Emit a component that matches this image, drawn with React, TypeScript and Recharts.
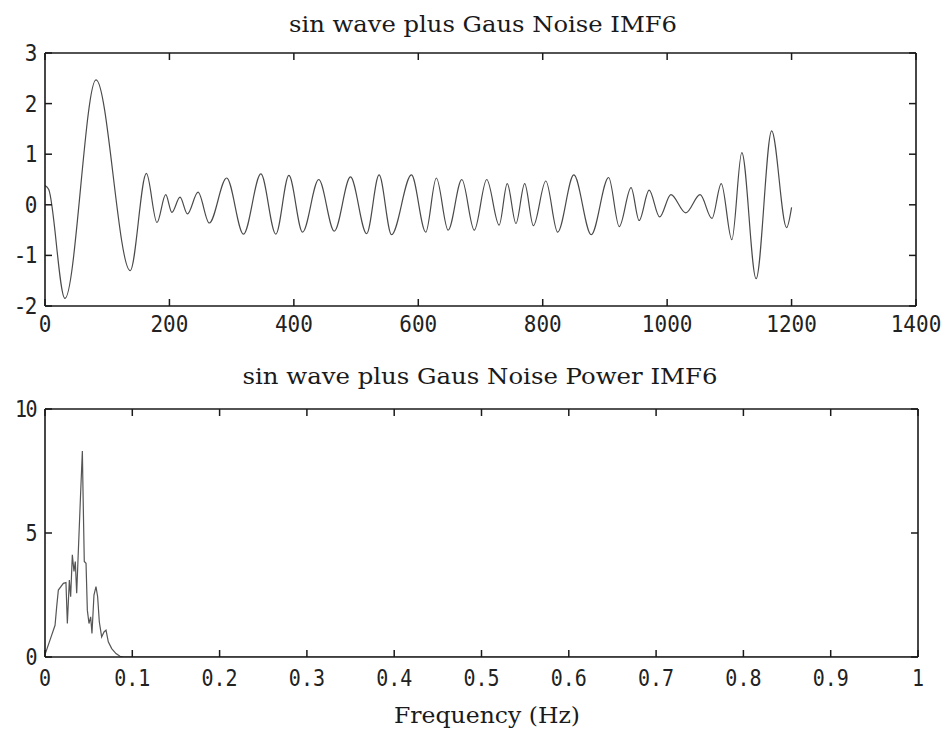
import { LineChart, Line, XAxis, YAxis } from 'recharts';

// IMF6 waveform, read at peaks / troughs
const waveX = [
  0, 6, 32, 82, 137, 163, 180, 194, 204, 217, 229, 246, 264, 292, 319, 347, 371, 392, 414,
  440, 465, 491, 517, 537, 557, 589, 612, 629, 648, 670, 690, 710, 730, 743, 757, 771, 785,
  805, 824, 850, 878, 906, 923, 942, 955, 971, 988, 1006, 1030, 1053, 1072, 1087, 1104,
  1120, 1143, 1168, 1192, 1200,
];
const waveY = [
  0.38, 0.3, -1.85, 2.47, -1.3, 0.62, -0.35, 0.2, -0.15, 0.15, -0.18, 0.25, -0.36, 0.53,
  -0.58, 0.61, -0.58, 0.58, -0.54, 0.5, -0.52, 0.55, -0.57, 0.59, -0.59, 0.59, -0.54, 0.53,
  -0.5, 0.5, -0.5, 0.5, -0.4, 0.42, -0.37, 0.42, -0.41, 0.47, -0.54, 0.59, -0.59, 0.54,
  -0.43, 0.34, -0.31, 0.29, -0.24, 0.2, -0.16, 0.2, -0.27, 0.42, -0.69, 1.03, -1.46, 1.46,
  -0.45, -0.05,
];

// power spectrum
const freqX = [
  0, 0.0057, 0.0115, 0.0134, 0.0153, 0.021, 0.024, 0.0256, 0.0279, 0.0294, 0.0313, 0.0332,
  0.0347, 0.0363, 0.0378, 0.0409, 0.0428, 0.0435, 0.045, 0.047, 0.0485, 0.0504, 0.0523,
  0.0538, 0.0561, 0.0584, 0.0603, 0.0622, 0.0649, 0.0676, 0.0699, 0.0725, 0.0764, 0.0813,
  0.0859, 0.09, 1,
];
const powerY = [
  0.1, 0.68, 1.28, 2.03, 2.7, 2.97, 3.0, 1.35, 3.1, 2.43, 4.12, 3.45, 3.85, 2.57, 3.92,
  6.69, 8.31, 6.76, 3.85, 3.78, 1.89, 1.35, 1.62, 0.95, 2.5, 2.84, 2.43, 1.42, 0.81, 1.01,
  1.08, 0.61, 0.34, 0.14, 0.03, 0, 0,
];

const waveTicksX = [0, 200, 400, 600, 800, 1000, 1200, 1400];
const waveTicksY = [-2, -1, 0, 1, 2, 3];
const freqTicks = [0, 0.1, 0.2, 0.3, 0.4, 0.5, 0.6, 0.7, 0.8, 0.9, 1];
const powerTicks = [0, 5, 10];

const waveData = waveX.map((x, i) => ({ x, y: waveY[i] }));
const powerData = freqX.map((x, i) => ({ x, y: powerY[i] }));

const AXIS = '#1a1a1a';
const TICK = 7;
const monoFont = { fontFamily: 'DejaVu Sans Mono, monospace', fill: '#222' };

const makeBottomTick = (fontSize: number, drop: number) => (props: any) => {
  const { x, y, payload } = props;
  return (
    <g>
      <line x1={x} x2={x} y1={y} y2={y - TICK} stroke={AXIS} strokeWidth={1.5} />
      <text
        transform={`translate(${x},${y + drop}) scale(1,1.12)`}
        textAnchor="middle"
        fontSize={fontSize}
        {...monoFont}
      >
        {String(payload.value)}
      </text>
    </g>
  );
};

const makeLeftTick = (fontSize: number) => (props: any) => {
  const { x, y, payload } = props;
  return (
    <g>
      <line x1={x} x2={x + TICK} y1={y} y2={y} stroke={AXIS} strokeWidth={1.5} />
      <text
        transform={`translate(${x - 9},${y + 8}) scale(1,1.12)`}
        textAnchor="end"
        fontSize={fontSize}
        letterSpacing={-1.5}
        {...monoFont}
      >
        {String(payload.value)}
      </text>
    </g>
  );
};

const TopTick = (props: any) => {
  const { x, y } = props;
  return <line x1={x} x2={x} y1={y} y2={y + TICK} stroke={AXIS} strokeWidth={1.5} />;
};

const RightTick = (props: any) => {
  const { x, y } = props;
  return <line x1={x} x2={x - TICK} y1={y} y2={y} stroke={AXIS} strokeWidth={1.5} />;
};

const WaveBottomTick = makeBottomTick(21, 26);
const FreqBottomTick = makeBottomTick(20, 29);
const WaveLeftTick = makeLeftTick(21);
const FreqLeftTick = makeLeftTick(20);

// four-sided MATLAB style box, ticks pointing inward
function boxAxes(
  xTicks: number[],
  xDomain: [number, number],
  yTicks: number[],
  yDomain: [number, number],
  BottomTick: any,
  LeftTick: any,
) {
  const common = {
    type: 'number' as const,
    tickSize: 0,
    tickMargin: 0,
    tickLine: false,
    stroke: AXIS,
    strokeWidth: 1.6,
    interval: 0 as const,
    allowDataOverflow: true,
  };
  return [
    <XAxis key="b" dataKey="x" domain={xDomain} ticks={xTicks} height={1} tick={<BottomTick />} {...common} />,
    <XAxis key="t" xAxisId="top" orientation="top" dataKey="x" domain={xDomain} ticks={xTicks} height={1} tick={<TopTick />} {...common} />,
    <YAxis key="l" domain={yDomain} ticks={yTicks} width={1} tick={<LeftTick />} {...common} />,
    <YAxis key="r" yAxisId="right" orientation="right" domain={yDomain} ticks={yTicks} width={1} tick={<RightTick />} {...common} />,
  ];
}

const serif = { fontFamily: 'DejaVu Serif, Liberation Serif, serif', fill: '#1a1a1a' };

export default function App() {
  return (
    <div style={{ position: 'relative', width: 948, height: 736, background: '#fff' }}>
      <style>{'body{margin:0;}'}</style>
      <div style={{ position: 'absolute', left: 0, top: 0 }}>
        <LineChart
          width={948}
          height={340}
          data={waveData}
          margin={{ top: 52, right: 31, bottom: 33, left: 44 }}
        >
          {boxAxes(waveTicksX, [0, 1400], waveTicksY, [-2, 3], WaveBottomTick, WaveLeftTick)}
          <Line
            dataKey="y"
            type="monotone"
            stroke="#4a4a4a"
            strokeWidth={1.2}
            dot={false}
            isAnimationActive={false}
          />
        </LineChart>
      </div>
      <div style={{ position: 'absolute', left: 0, top: 340 }}>
        <LineChart
          width={948}
          height={360}
          data={powerData}
          margin={{ top: 68, right: 29, bottom: 42, left: 44 }}
        >
          {boxAxes(freqTicks, [0, 1], powerTicks, [0, 10], FreqBottomTick, FreqLeftTick)}
          <Line
            dataKey="y"
            type="linear"
            stroke="#555"
            strokeWidth={1.2}
            dot={false}
            isAnimationActive={false}
          />
        </LineChart>
      </div>
      <svg
        width={948}
        height={736}
        style={{ position: 'absolute', left: 0, top: 0, pointerEvents: 'none' }}
      >
        <text x={483} y={32} textAnchor="middle" fontSize={23} textLength={388} lengthAdjust="spacingAndGlyphs" {...serif}>
          sin wave plus Gaus Noise IMF6
        </text>
        <text x={480} y={384} textAnchor="middle" fontSize={23} textLength={475} lengthAdjust="spacingAndGlyphs" {...serif}>
          sin wave plus Gaus Noise Power IMF6
        </text>
        <text x={487} y={723} textAnchor="middle" fontSize={23} textLength={186} lengthAdjust="spacingAndGlyphs" {...serif}>
          Frequency (Hz)
        </text>
      </svg>
    </div>
  );
}
